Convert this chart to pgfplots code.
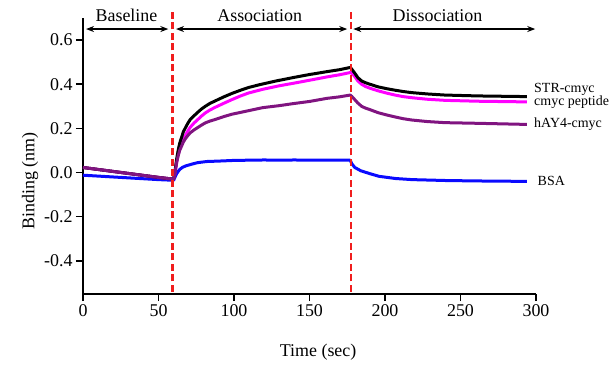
\documentclass[border=0pt]{standalone}
\usepackage{fontspec}
\setmainfont{Liberation Serif}
\usepackage{pgfplots}
\pgfplotsset{compat=1.18}
\usetikzlibrary{arrows.meta}
\definecolor{cmag}{RGB}{255,0,255}
\definecolor{cpur}{RGB}{128,20,128}
\definecolor{cblu}{RGB}{10,10,255}
\definecolor{cred}{RGB}{240,30,30}
\begin{document}
\begin{tikzpicture}
\begin{axis}[
  at={(0,0)}, anchor=south west,
  scale only axis, width=453bp, height=276bp,
  xmin=0, xmax=300, ymin=-0.55, ymax=0.7,
  axis x line=bottom, axis y line=left,
  axis line style={-, line width=1.5bp},
  xtick={0,50,...,300},
  ytick={-0.4,-0.2,0,0.2,0.4,0.6},
  yticklabel style={/pgf/number format/.cd, fixed, fixed zerofill, precision=1},
  /pgf/number format/assume math mode=true,
  tick align=outside, major tick length=7bp,
  tick style={line width=1.5bp, black},
  tick label style={font=\fontsize{18}{20}\selectfont},
  clip=false,
  xlabel={Time (sec)}, ylabel={Binding (nm)},
  label style={font=\fontsize{18}{21}\selectfont},
  xlabel style={at={(axis description cs:0.519,-0.21)}, anchor=center},
  ylabel style={at={(axis description cs:-0.117,0.41)}, anchor=center, rotate=0},
  every axis plot/.append style={line join=round},
]
% BSA
\addplot[cblu, line width=3bp] coordinates {
(0,-0.012) (10,-0.016) (20,-0.02) (30,-0.024) (40,-0.028) (50,-0.032) (60,-0.035)
(61,-0.02) (62,-0.005) (64,0.014) (66,0.024) (68,0.03) (72,0.038) (76,0.045) (82,0.05)
(90,0.052) (100,0.055) (110,0.056) (120,0.057) (130,0.056) (140,0.057) (150,0.056) (160,0.056) (170,0.056) (177,0.056)
(178,0.04) (180,0.023) (184,0.008) (190,-0.005) (196,-0.017) (207,-0.027) (218,-0.032) (240,-0.036) (260,-0.038) (294,-0.04)
};
% cmyc peptide
\addplot[cmag, line width=3bp] coordinates {
(0,0.023) (10,0.014) (20,0.005) (30,-0.004) (40,-0.013) (50,-0.022) (60,-0.03)
(61,0.0) (62,0.045) (63,0.08) (64,0.105) (65.3,0.127) (66.5,0.15) (68,0.17) (69.5,0.189) (71,0.205) (73.5,0.224) (76,0.24) (78.5,0.256) (81,0.27) (84,0.283) (87.4,0.295) (93,0.313) (98.5,0.33)
(104,0.346) (109.5,0.36) (119,0.377) (130,0.393) (139,0.404) (150,0.418) (161.5,0.433) (170,0.443) (177,0.453)
(178,0.45) (180,0.435) (182,0.415) (184.5,0.40) (187,0.39) (190,0.382) (195.5,0.37) (201,0.36) (206.6,0.351) (212,0.344) (217.7,0.339) (228,0.332) (239.7,0.327) (261.6,0.323) (294,0.32)
};
% STR-cmyc
\addplot[black, line width=3bp] coordinates {
(0,0.023) (10,0.014) (20,0.005) (30,-0.004) (40,-0.013) (50,-0.022) (60,-0.03)
(61,0.01) (62,0.06) (63,0.1) (64,0.132) (65.3,0.16) (66.5,0.185) (68,0.205) (69.5,0.224) (71,0.24) (73.5,0.257) (76,0.273) (78.5,0.288) (81,0.3) (84,0.313) (87.4,0.324) (93,0.342) (98.5,0.358)
(104,0.372) (109.5,0.385) (117,0.398) (128,0.415) (139,0.43) (150,0.444) (161.5,0.457) (170,0.466) (177,0.476)
(178,0.468) (180,0.45) (182,0.43) (184.5,0.415) (187,0.407) (190,0.4) (195.5,0.388) (201,0.38) (206.6,0.373) (212,0.367) (217.7,0.362) (228,0.356) (239.7,0.351) (261.6,0.347) (294,0.344)
};
% hAY4-cmyc
\addplot[cpur, line width=3bp] coordinates {
(0,0.023) (10,0.014) (20,0.005) (30,-0.004) (40,-0.013) (50,-0.022) (60,-0.03)
(61,0.0) (62,0.045) (63,0.075) (64,0.1) (65.3,0.12) (66.5,0.139) (68,0.155) (69.5,0.168) (71,0.18) (73.5,0.193) (76,0.204) (78.5,0.215) (81,0.225) (84,0.233) (87.4,0.24) (93,0.253) (98.5,0.264)
(104,0.272) (109.5,0.28) (119,0.294) (130,0.303) (139,0.312) (150,0.322) (161.5,0.336) (170,0.343) (177,0.351)
(178,0.345) (180,0.33) (182,0.315) (184.5,0.30) (187,0.292) (190,0.285) (195.5,0.271) (201,0.261) (206.6,0.252) (212,0.244) (217.7,0.238) (228,0.231) (239.7,0.226) (261.6,0.223) (294,0.218)
};
% red dashed lines
\addplot[cred, line width=2.2bp, dash pattern=on 7bp off 3.5bp] coordinates {(59.3,-0.54) (59.3,0.727)};
\addplot[cred, line width=2.2bp, dash pattern=on 7bp off 3.5bp] coordinates {(177.3,-0.54) (177.3,0.727)};
% arrows
\draw[{Stealth[length=8bp,width=6bp]}-{Stealth[length=8bp,width=6bp]}, line width=1.3bp] (axis cs:2,0.65) -- (axis cs:56.5,0.65);
\draw[{Stealth[length=8bp,width=6bp]}-{Stealth[length=8bp,width=6bp]}, line width=1.3bp] (axis cs:61.6,0.65) -- (axis cs:175,0.65);
\draw[{Stealth[length=8bp,width=6bp]}-{Stealth[length=8bp,width=6bp]}, line width=1.3bp] (axis cs:179,0.65) -- (axis cs:299.5,0.65);
\node[anchor=base, inner sep=0, font=\fontsize{18}{21}\selectfont] at (axis cs:28.8,0.683) {Baseline};
\node[anchor=base, inner sep=0, font=\fontsize{18}{21}\selectfont] at (axis cs:117,0.683) {Association};
\node[anchor=base, inner sep=0, font=\fontsize{18}{21}\selectfont] at (axis cs:234.8,0.683) {Dissociation};
% curve labels
\node[anchor=west, inner sep=0, font=\fontsize{14}{16}\selectfont] at (axis cs:298.7,0.377) {STR-cmyc};
\node[anchor=west, inner sep=0, font=\fontsize{14}{16}\selectfont] at (axis cs:298.7,0.318) {cmyc peptide};
\node[anchor=west, inner sep=0, font=\fontsize{14}{16}\selectfont] at (axis cs:298.7,0.218) {hAY4-cmyc};
\node[anchor=west, inner sep=0, font=\fontsize{14}{16}\selectfont] at (axis cs:301,-0.04) {BSA};
\end{axis}
\pgfresetboundingbox
\path[use as bounding box] (-83bp,-72bp) rectangle (530bp,294bp);
\end{tikzpicture}
\end{document}
